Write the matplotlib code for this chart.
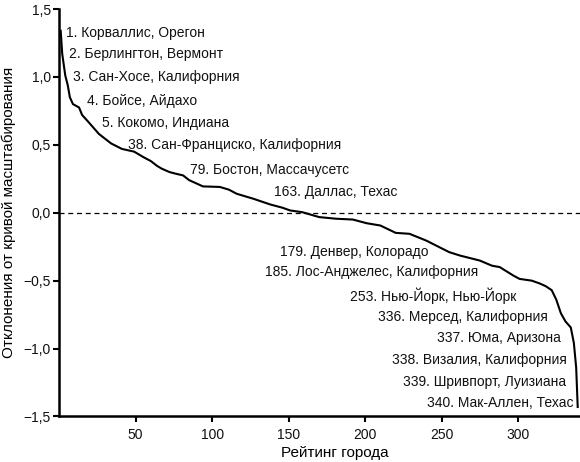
import matplotlib
matplotlib.use('Agg')
import matplotlib.pyplot as plt
from matplotlib.ticker import FuncFormatter

plt.rcParams['font.family'] = ['Liberation Sans', 'DejaVu Sans']

# кривая: рейтинг города -> отклонение
rank = [1, 2, 4, 5.6, 7, 9, 13, 15, 19, 26, 34, 41, 49, 55, 60, 64, 67, 72, 76, 81,
        85, 94, 105, 111, 116, 127, 138, 146, 151, 159, 170, 181, 192, 201, 210,
        220, 229, 240, 255, 262, 275, 283, 288, 297, 301, 309, 314, 318, 322, 325,
        328, 331, 334.5, 336.5, 338, 339]
dev = [1.34, 1.17, 1.01, 0.94, 0.85, 0.80, 0.775, 0.72, 0.67, 0.58, 0.51, 0.47,
       0.45, 0.41, 0.38, 0.345, 0.325, 0.30, 0.288, 0.275, 0.24, 0.194, 0.19,
       0.17, 0.14, 0.103, 0.061, 0.037, 0.017, 0.004, -0.032, -0.044, -0.05,
       -0.077, -0.094, -0.148, -0.155, -0.205, -0.29, -0.315, -0.352, -0.39,
       -0.40, -0.463, -0.487, -0.50, -0.52, -0.54, -0.57, -0.64, -0.74, -0.80,
       -0.845, -0.96, -1.14, -1.43]

labels = ['1. Корваллис, Орегон', '2. Берлингтон, Вермонт',
          '3. Сан-Хосе, Калифорния', '4. Бойсе, Айдахо',
          '5. Кокомо, Индиана', '38. Сан-Франциско, Калифорния',
          '79. Бостон, Массачусетс', '163. Даллас, Техас',
          '179. Денвер, Колорадо', '185. Лос-Анджелес, Калифорния',
          '253. Нью-Йорк, Нью-Йорк', '336. Мерсед, Калифорния',
          '337. Юма, Аризона', '338. Визалия, Калифорния',
          '339. Шривпорт, Луизиана', '340. Мак-Аллен, Техас']

xticks = [50, 100, 150, 200, 250, 300]
yticks = [-1.5, -1.0, -0.5, 0.0, 0.5, 1.0, 1.5]

# где стоят подписи (левый край, середина по высоте)
label_xy = [(4.5, 1.324), (6.5, 1.169), (9.1, 1.0), (18.2, 0.826), (28, 0.664),
            (45, 0.497), (85.4, 0.313), (140.3, 0.150), (144.2, -0.286),
            (134.4, -0.439), (189.9, -0.611), (208.2, -0.764), (247.3, -0.919),
            (217.9, -1.083), (224.5, -1.246), (240.2, -1.399)]

fig = plt.figure(figsize=(5.8, 4.62), dpi=100)
ax = fig.add_axes([0.102, 0.0985, 0.898, 0.882])

ax.plot(rank, dev, color='black', lw=1.5, solid_joinstyle='round')
ax.axhline(0, color='black', lw=0.9, ls=(0, (4, 3)))

for txt, (x, y) in zip(labels, label_xy):
    ax.text(x, y, txt, ha='left', va='center', fontsize=10, color='#111111')

ax.set_xlim(0, 340.5)
ax.set_ylim(-1.5, 1.5)
ax.set_xticks(xticks)
ax.set_yticks(yticks)
ax.yaxis.set_major_formatter(FuncFormatter(lambda v, p: ('%.1f' % v).replace('.', ',').replace('-', '−')))
ax.tick_params(direction='out', length=4, width=1.5, labelsize=10, color='black',
               labelcolor='#111111')
ax.tick_params(axis='x', pad=4)
ax.tick_params(axis='y', pad=2)

for s in ['top', 'right']:
    ax.spines[s].set_visible(False)
for s in ['left', 'bottom']:
    ax.spines[s].set_linewidth(1.8)

ax.set_xlabel('Рейтинг города', fontsize=11)
ax.set_ylabel('Отклонения от кривой масштабирования', fontsize=11)
ax.xaxis.set_label_coords(0.53, -0.072)
ax.yaxis.set_label_coords(-0.083, 0.5)

fig.savefig('out.png', dpi=100)
